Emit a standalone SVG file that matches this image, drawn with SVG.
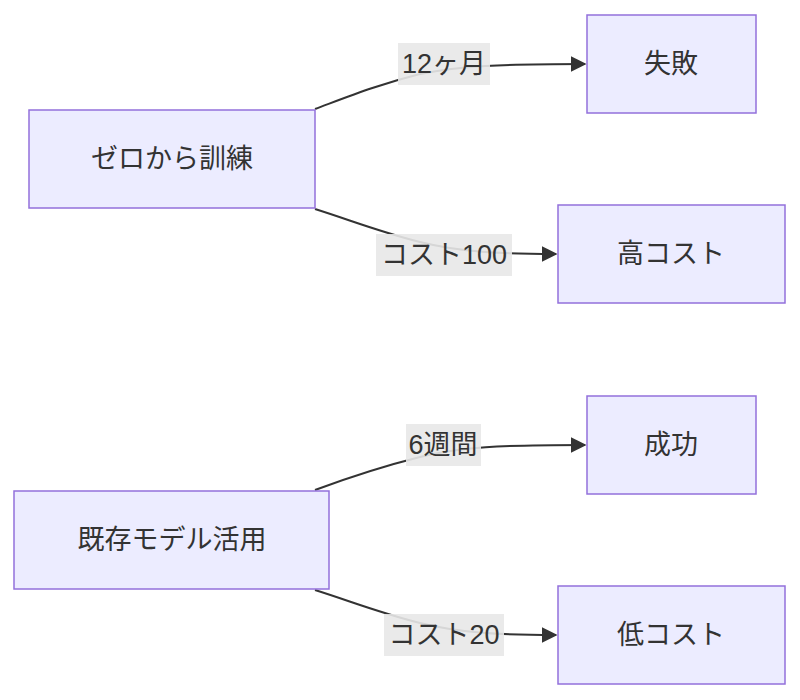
<svg xmlns="http://www.w3.org/2000/svg" width="800" height="700" viewBox="0 0 800 700">
<style>
.n rect{fill:#ECECFF;stroke:#9370DB;stroke-width:1.5}
text{font-family:"Liberation Sans","Noto Sans CJK JP",sans-serif;font-size:27px;fill:#333;text-anchor:middle;dominant-baseline:central}
.e path{fill:none;stroke:#333;stroke-width:2}
.l rect{fill:#e8e8e8;opacity:0.9}
</style>
<defs><marker id="a" viewBox="0 0 10 10" refX="9" refY="5" markerWidth="8" markerHeight="8" orient="auto"><path d="M0,0L10,5L0,10z" fill="#333"/></marker></defs>
<g class="e">
<path d="M315,109 C350,96 380,84 420,74 C460,66 500,64 585,64" marker-end="url(#a)"/>
<path d="M315,209 C350,220 380,232 420,242 C460,252 500,254 556,254" marker-end="url(#a)"/>
<path d="M315,490 C350,477 380,467 420,457 C460,447 500,445 585,445" marker-end="url(#a)"/>
<path d="M315,590 C350,601 380,613 420,623 C460,633 500,635 556,635" marker-end="url(#a)"/>
</g>
<g class="l">
<rect x="398" y="43" width="92" height="42"/><text x="444" y="64">12ヶ月</text>
<rect x="376" y="234" width="136" height="42"/><text x="444" y="255">コスト100</text>
<rect x="406" y="424" width="75" height="42"/><text x="443" y="445">6週間</text>
<rect x="384" y="614" width="120" height="42"/><text x="444" y="635">コスト20</text>
</g>
<g id="A" class="n"><rect x="29" y="110" width="286" height="98"/><text x="172" y="159">ゼロから訓練</text></g>
<g id="B" class="n"><rect x="587" y="15" width="169" height="98"/><text x="671" y="64">失敗</text></g>
<g id="C" class="n"><rect x="558" y="205" width="227" height="98"/><text x="671" y="254">高コスト</text></g>
<g id="D" class="n"><rect x="14" y="491" width="315" height="98"/><text x="172" y="540">既存モデル活用</text></g>
<g id="E" class="n"><rect x="587" y="396" width="169" height="98"/><text x="671" y="445">成功</text></g>
<g id="F" class="n"><rect x="558" y="586" width="227" height="98"/><text x="671" y="635">低コスト</text></g>
</svg>
